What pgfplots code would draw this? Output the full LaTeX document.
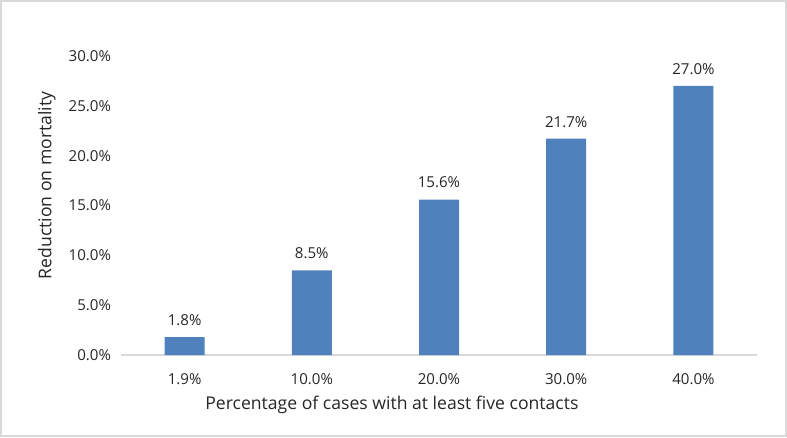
\documentclass[border=0pt]{standalone}
\usepackage{pgfplots}
\pgfplotsset{compat=1.18}
\usepackage{fontspec}
\setmainfont{Open Sans}
\definecolor{barblue}{HTML}{4F81BD}
\definecolor{frame}{HTML}{D9D9D9}
\begin{document}
\begin{tikzpicture}
\useasboundingbox (0,0) rectangle (590.25pt,327.75pt);
\draw[frame,line width=1pt] (0.75pt,0.75pt) rectangle (589.5pt,327pt);
\begin{axis}[
  at={(90.75pt,61.5pt)}, anchor=south west,
  scale only axis,
  width=477pt, height=224.25pt,
  xmin=-0.5, xmax=4.5, ymin=0, ymax=30,
  ybar, bar width=30pt,
  xtick=data,
  xticklabels={1.9\%,10.0\%,20.0\%,30.0\%,40.0\%},
  ytick={0,5,10,15,20,25,30},
  yticklabel={\pgfmathprintnumber[fixed,fixed zerofill,precision=1]{\tick}\%},
  /pgf/number format/assume math mode=true,
  tick style={draw=none},
  axis x line*=bottom, axis y line*=left,
  x axis line style={draw=frame, line width=1pt, -},
  y axis line style={draw=none},
  ticklabel style={font=\fontsize{11.3}{13}\selectfont, text=black!85},
  xticklabel style={yshift=-6pt},
  yticklabel style={xshift=-4pt},
  xlabel={Percentage of cases with at least five contacts},
  ylabel={Reduction on mortality},
  label style={font=\fontsize{13.2}{15}\selectfont, text=black!85},
  xlabel style={at={(ticklabel cs:0.426)}, yshift=-2pt},
  ylabel style={at={(ticklabel cs:0.567)}, yshift=3pt},
  nodes near coords={\pgfmathprintnumber[fixed,fixed zerofill,precision=1]{\pgfplotspointmeta}\%},
  nodes near coords style={font=\fontsize{11.3}{13}\selectfont, text=black!85, yshift=5pt},
  clip=false,
]
\addplot[fill=barblue, draw=none] coordinates {(0,1.8) (1,8.5) (2,15.6) (3,21.7) (4,27.0)};
\end{axis}
\end{tikzpicture}
\end{document}
